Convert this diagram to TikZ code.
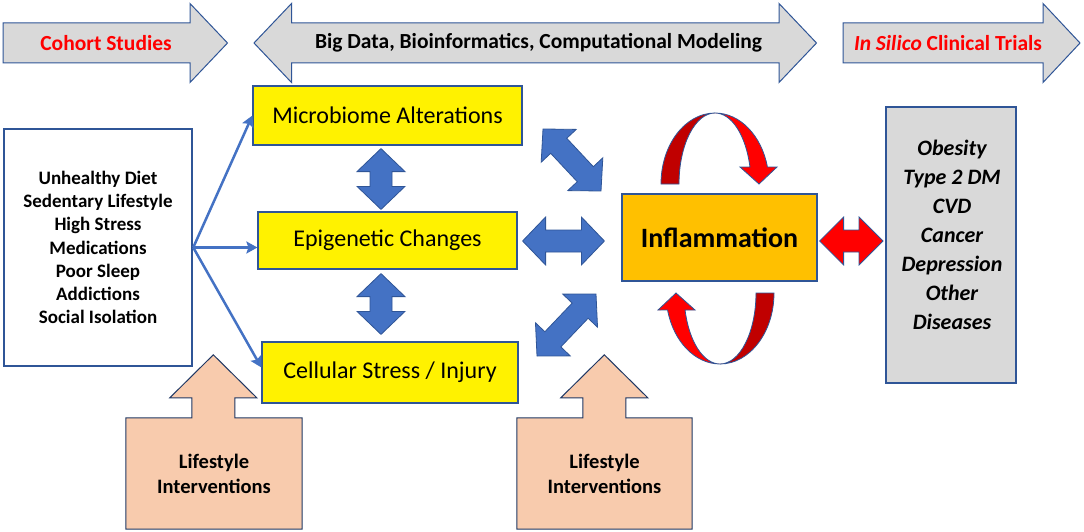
\documentclass[tikz,border=0pt]{standalone}
\usepackage{fontspec}
\setmainfont{Carlito}
\usetikzlibrary{arrows.meta,positioning,calc,backgrounds}

\definecolor{edgeblue}{RGB}{47,85,151}
\definecolor{arrowblue}{RGB}{68,114,196}
\definecolor{navyline}{RGB}{32,56,100}
\definecolor{bargray}{RGB}{217,217,217}
\definecolor{inflorange}{RGB}{255,192,0}
\definecolor{peach}{RGB}{248,203,173}
\definecolor{ribbondark}{RGB}{192,0,0}

% length and angle from #1 to #2, kept in \blocklen / \blockang
\newcommand{\blockgeom}[2]{%
  \path let \p1=($(#2)-(#1)$) in \pgfextra{%
    \pgfmathsetmacro\blocklen{veclen(\x1,\y1)}%
    \pgfmathsetmacro\blockang{atan2(\y1,\x1)}%
    \global\let\blocklen\blocklen
    \global\let\blockang\blockang};}

% fat arrow, one head: [style]{from}{to}{half shaft}{half head}{head length}
\newcommand{\singleblock}[6][]{%
  \blockgeom{#2}{#3}%
  \filldraw[#1, shift={(#2)}, rotate=\blockang]
    (0pt,-#4pt) -- ({\blocklen pt-#6pt},-#4pt) -- ({\blocklen pt-#6pt},-#5pt)
    -- (\blocklen pt,0pt) -- ({\blocklen pt-#6pt},#5pt) -- ({\blocklen pt-#6pt},#4pt)
    -- (0pt,#4pt) -- cycle;}

% fat arrow, two heads
\newcommand{\doubleblock}[6][]{%
  \blockgeom{#2}{#3}%
  \filldraw[#1, shift={(#2)}, rotate=\blockang]
    (0pt,0pt) -- (#6pt,-#5pt) -- (#6pt,-#4pt) -- ({\blocklen pt-#6pt},-#4pt)
    -- ({\blocklen pt-#6pt},-#5pt) -- (\blocklen pt,0pt) -- ({\blocklen pt-#6pt},#5pt)
    -- ({\blocklen pt-#6pt},#4pt) -- (#6pt,#4pt) -- (#6pt,#5pt) -- cycle;}

% twisted loop arrow round a centre: {centre}{rotation}
\newcommand{\loopribbon}[2]{%
  \begin{scope}[shift={(#1)}, rotate=#2]
    \filldraw[ribbon, fill=ribbondark] (-54pt,0pt)
      arc[start angle=180, end angle=90, x radius=54pt, y radius=71pt]
      arc[start angle=90, end angle=180, x radius=36pt, y radius=71pt] -- cycle;
    \filldraw[ribbon, fill=red] (0pt,71pt)
      arc[start angle=90, end angle=13.85, x radius=54pt, y radius=71pt]
      -- (62pt,17pt) -- (44pt,0pt) -- (25pt,17pt) -- (34.95pt,17pt)
      arc[start angle=13.85, end angle=90, x radius=36pt, y radius=71pt] -- cycle;
  \end{scope}}

\begin{document}
\begin{tikzpicture}[x=1pt, y=-1pt,
  every node/.style={inner sep=0pt, align=center},
  topbar/.style={draw=edgeblue, line width=1pt, fill=bargray},
  bartext/.style={font=\bfseries\fontsize{21.5}{26}\selectfont},
  riskbox/.style={draw=edgeblue, line width=2.5pt, fill=white,
    minimum width=188, minimum height=237, font=\bfseries\fontsize{19}{23.3}\selectfont},
  midbox/.style={draw=edgeblue, line width=1.2pt, fill=yellow,
    font=\fontsize{24}{29}\selectfont},
  inflbox/.style={draw=edgeblue, line width=1.2pt, fill=inflorange,
    minimum width=195, minimum height=87, font=\bfseries\fontsize{28}{34}\selectfont},
  disbox/.style={draw=edgeblue, line width=2pt, fill=bargray,
    minimum width=130, minimum height=276},
  distext/.style={font=\bfseries\itshape\fontsize{22}{29}\selectfont},
  lifetext/.style={minimum width=176, minimum height=111,
    font=\bfseries\fontsize{20.5}{25}\selectfont},
  callout/.style={draw=navyline, line width=1pt, fill=peach},
  fan/.style={draw=arrowblue, line width=2.5pt,
    -{Stealth[length=11pt, width=12pt, inset=2pt]}},
  bluefat/.style={draw=edgeblue, line width=0.8pt, fill=arrowblue},
  redfat/.style={draw=edgeblue, line width=0.8pt, fill=red},
  ribbon/.style={draw=edgeblue, line width=0.8pt},
]
\useasboundingbox (0,0) rectangle (1084,532);
\begin{scope}[on background layer]
  \fill[white] (0,0) rectangle (1084,532);
\end{scope}

%% top bars
\coordinate (cohortA) at (3,43);
\coordinate (cohortB) at (227.5,43);
\singleblock[topbar]{cohortA}{cohortB}{20}{39.5}{37.5}
\node[bartext, text=red] (cohort) at (106,43) {Cohort Studies};

\coordinate (bigA) at (254,43);
\coordinate (bigB) at (816.5,43);
\doubleblock[topbar]{bigA}{bigB}{20}{39.5}{37.5}
\node[bartext] (bigdata) at (538.5,43)
  {Big Data, Bioinformatics, Computational Modeling};

\coordinate (silicoA) at (843,43);
\coordinate (silicoB) at (1080,43);
\singleblock[topbar]{silicoA}{silicoB}{20}{39.5}{37}
\node[bartext, text=red] (silico) at (948,43) {\textit{In Silico} Clinical Trials};

%% risk factors
\node[riskbox] (risk) at (98,247.5)
  {Unhealthy Diet\\Sedentary Lifestyle\\High Stress\\Medications\\Poor Sleep\\Addictions\\Social Isolation};

%% middle boxes
\node[midbox, minimum width=269, minimum height=59] (micro) at (387.5,115.5) {Microbiome Alterations};
\node[midbox, minimum width=259, minimum height=57] (epi) at (387.5,240.5) {Epigenetic Changes};
\node[midbox, minimum width=256, minimum height=61] (cell) at (390,372.5) {Cellular Stress / Injury};

%% inflammation and diseases
\node[inflbox] (infl) at (719.5,237.5) {Inflammation};
\node[disbox] (dis) at (951,245) {};
\node[distext] (dislist) at ($(dis.center)+(1,-10)$)
  {Obesity\\Type 2 DM\\CVD\\Cancer\\Depression\\Other\\Diseases};

%% fan from risk box
\draw[fan] (risk.east) -- (micro.west);
\draw[fan] (risk.east) -- (epi.west |- risk.east);
\draw[fan] (risk.east) -- ($(cell.west)+(0,-5)$);

%% fat arrows between boxes
\coordinate (me1) at ($(micro.south)+(-6.5,3)$);
\coordinate (me2) at ($(epi.north)+(-6.5,-2)$);
\doubleblock[bluefat]{me1}{me2}{11}{24}{23}
\coordinate (ec1) at ($(epi.south)+(-6.5,4)$);
\coordinate (ec2) at ($(cell.north)+(-9,-7)$);
\doubleblock[bluefat]{ec1}{ec2}{11}{24}{23}
\coordinate (ei1) at ($(epi.east)+(5,0.5)$);
\coordinate (ei2) at ($(infl.west)+(-17,3.5)$);
\doubleblock[bluefat]{ei1}{ei2}{11}{24}{23}
\coordinate (mi1) at (543,129);
\coordinate (mi2) at (601,191);
\doubleblock[bluefat]{mi1}{mi2}{11}{24}{23}
\coordinate (ci1) at (537,356);
\coordinate (ci2) at (596,294);
\doubleblock[bluefat]{ci1}{ci2}{11}{24}{23}
\coordinate (id1) at ($(infl.east)+(2,3.5)$);
\coordinate (id2) at ($(dis.west)+(-2,-4)$);
\doubleblock[redfat]{id1}{id2}{11}{24}{24}

%% loops round inflammation
\coordinate (looptop) at ($(infl.center)+(-4.5,-53.5)$);
\coordinate (loopbot) at ($(infl.center)+(0.5,55.5)$);
\loopribbon{looptop}{0}
\loopribbon{loopbot}{180}

%% lifestyle callouts
\node[lifetext] (life1) at (214,473.5) {Lifestyle\\Interventions};
\node[lifetext, minimum width=175] (life2) at (604.5,473.5) {Lifestyle\\Interventions};
\begin{scope}[on background layer]
  \foreach \lf in {life1,life2}
    \filldraw[callout] (\lf.south west) -- (\lf.north west) -| ++(66,-20)
      -- ++(-22,0) -- ++(43.5,-43) -- ++(43.5,43) -- ++(-22,0)
      |- (\lf.north east) -- (\lf.south east) -- cycle;
\end{scope}

\end{tikzpicture}
\end{document}
